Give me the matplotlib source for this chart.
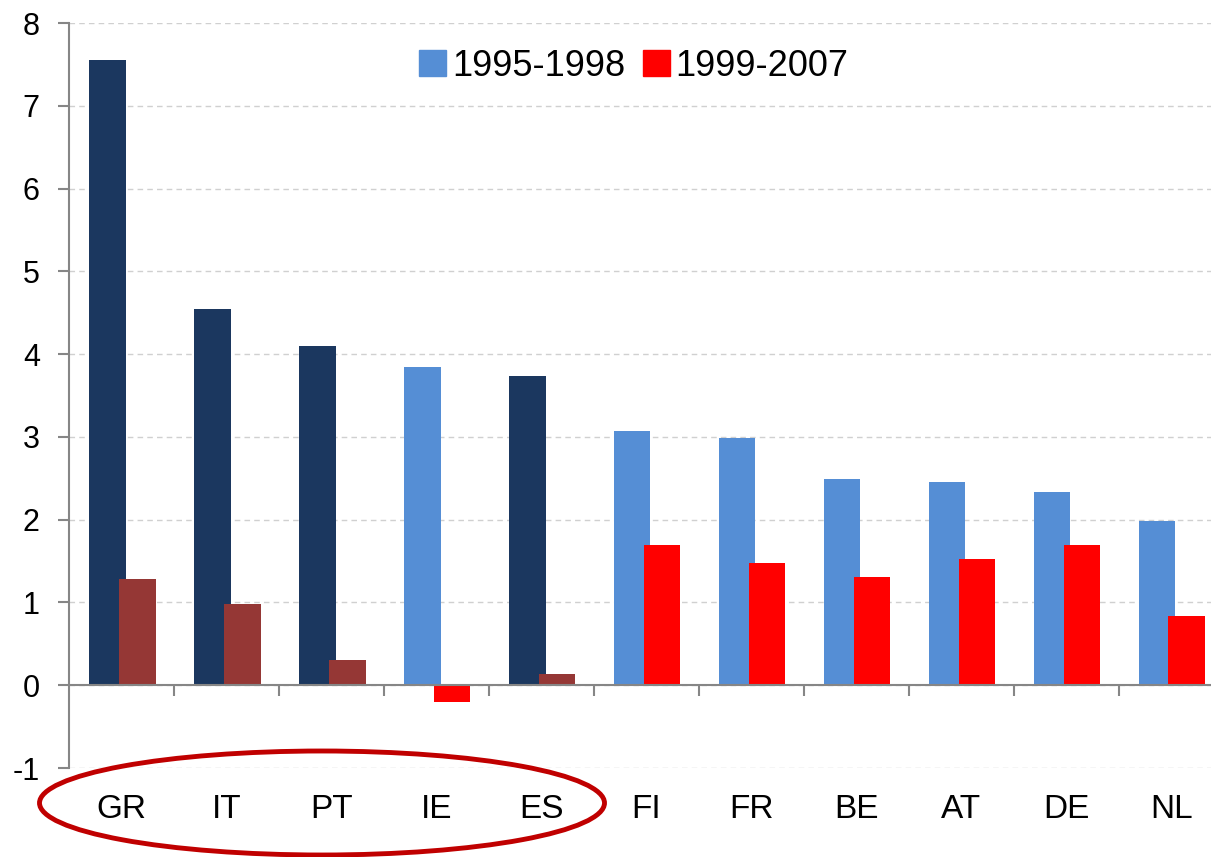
import numpy as np
import matplotlib
matplotlib.use('Agg')
import matplotlib.pyplot as plt
from matplotlib.patches import Patch, Ellipse

plt.rcParams['font.family'] = ['Liberation Sans', 'DejaVu Sans']
plt.rcParams['axes.unicode_minus'] = False

countries = ['GR', 'IT', 'PT', 'IE', 'ES', 'FI', 'FR', 'BE', 'AT', 'DE', 'NL']
before = [7.55, 4.55, 4.10, 3.84, 3.73, 3.07, 2.99, 2.49, 2.46, 2.34, 1.98]
after = [1.28, 0.98, 0.31, -0.20, 0.13, 1.69, 1.48, 1.31, 1.52, 1.70, 0.84]
highlighted = ['GR', 'IT', 'PT', 'ES']
legend_labels = ['1995-1998', '1999-2007']

navy = '#1B375F'
light_blue = '#558ED5'
brown = '#953735'
red = '#FF0000'

c1 = [navy if c in highlighted else light_blue for c in countries]
c2 = [brown if c in highlighted else red for c in countries]

W, H = 1211, 857
fig = plt.figure(figsize=(W / 100, H / 100), dpi=100)
ax = fig.add_axes([69 / W, 1 - 768 / H, (W - 69) / W, (768 - 23) / H])

x = np.arange(len(countries))
ax.bar(x - 0.135, before, width=0.35, color=c1, zorder=2)
ax.bar(x + 0.15, after, width=0.35, color=c2, zorder=3)

ax.set_xlim(-0.5, 10.38)
ax.set_ylim(-1, 8)
ax.set_yticks(range(-1, 9))
ax.yaxis.grid(True, linestyle=(0, (4, 3)), color='#D0D0D0', linewidth=1)
ax.set_axisbelow(True)

for s in ['top', 'right', 'bottom']:
    ax.spines[s].set_visible(False)
ax.spines['left'].set_color('#868686')
ax.spines['left'].set_linewidth(1.5)
ax.tick_params(axis='y', length=8, width=1.5, color='#868686', pad=13, labelsize=22)
ax.set_xticks([])

# category axis drawn at zero
ax.axhline(0, color='#868686', linewidth=1.5, zorder=4)
ax.vlines(np.arange(0.5, len(countries) - 1), -0.13, 0, color='#868686', linewidth=1.5, zorder=4)

for i, c in enumerate(countries):
    ax.text(i, -1.5, c, ha='center', va='center', fontsize=24, clip_on=False)

handles = [Patch(color=light_blue), Patch(color=red)]
fig.legend(handles, legend_labels, loc='center', bbox_to_anchor=(634 / W, 1 - 66 / H),
           ncol=2, frameon=False, fontsize=26, handlelength=0.75, handleheight=0.75,
           handletextpad=0.15, columnspacing=0.5)

# highlight ring round the first five countries
ring = Ellipse((322 / W, 1 - 803 / H), 565 / W, 104 / H, transform=fig.transFigure,
               fill=False, edgecolor='#C00000', linewidth=3.5)
fig.patches.append(ring)

fig.savefig('out.png', dpi=100)
